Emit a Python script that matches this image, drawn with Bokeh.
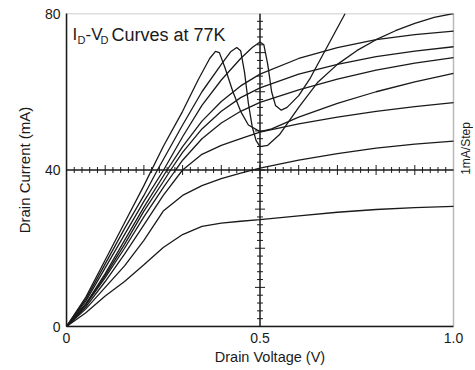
import math
from bokeh.plotting import figure
from bokeh.models import Range1d, Span, Label, FixedTicker, BoxAnnotation
from bokeh.embed import file_html
from bokeh.resources import INLINE

# ---- data ----
v1 = [0, 0.05, 0.1, 0.15, 0.2, 0.25, 0.3, 0.35, 0.4, 0.45, 0.5, 0.6, 0.7, 0.8, 0.9, 1.0]
i1 = [0, 3.5, 7.8, 11.5, 15.8, 20.2, 23.5, 25.6, 26.4, 26.9, 27.3, 28.3, 29.2, 29.9, 30.4, 30.7]

v2 = [0, 0.05, 0.1, 0.15, 0.2, 0.25, 0.3, 0.35, 0.4, 0.45, 0.5, 0.6, 0.7, 0.8, 0.9, 1.0]
i2 = [0, 4.5, 10, 15.5, 22, 29.5, 33.5, 36, 37.8, 39.2, 40.5, 42.5, 44.2, 45.6, 46.6, 47.4]

v3 = [0, 0.05, 0.1, 0.15, 0.2, 0.25, 0.3, 0.35, 0.4, 0.45, 0.5, 0.6, 0.7, 0.8, 0.9, 1.0]
i3 = [0, 5, 11.5, 18.5, 26, 33.5, 40, 44, 46.3, 48, 49.7, 51.8, 53.5, 55, 56.2, 57.2]

v4 = [0, 0.05, 0.1, 0.15, 0.2, 0.25, 0.282, 0.3, 0.35, 0.4, 0.45, 0.5, 0.6, 0.7, 0.8, 0.9, 1.0]
i4 = [0, 5.5, 12.5, 20, 28, 35.5, 40, 42.5, 48, 52, 55, 57.3, 60.5, 63.2, 65.5, 67.3, 68.7]

v5 = [0, 0.05, 0.1, 0.15, 0.2, 0.25, 0.269, 0.3, 0.35, 0.4, 0.45, 0.5, 0.6, 0.7, 0.8, 0.9, 1.0]
i5 = [0, 5.7, 13, 21, 29.5, 37, 40, 44.5, 50.5, 55, 58.5, 61, 64.5, 67, 69, 70.4, 71.5]

v6 = [0, 0.05, 0.1, 0.15, 0.2, 0.26, 0.3, 0.35, 0.4, 0.45, 0.5, 0.6, 0.7, 0.8, 0.9, 1.0]
i6 = [0, 5.8, 13.5, 22, 30.5, 40, 46, 52.5, 57.5, 61.5, 64.5, 68.5, 71.3, 73.3, 74.6, 75.5]

# negative-resistance curves
v7 = [0, 0.05, 0.1, 0.15, 0.2, 0.25, 0.3, 0.34, 0.37, 0.385, 0.395, 0.41, 0.43, 0.45, 0.47, 0.5,
      0.53, 0.6, 0.7, 0.8, 0.9, 1.0]
i7 = [0, 7.5, 17, 26.5, 36, 46, 55, 63, 68.5, 70.3, 70, 66, 60, 55, 51.5, 49.8,
      50.5, 53.5, 57, 60, 62.5, 64.7]

v8 = [0, 0.05, 0.1, 0.15, 0.2, 0.235, 0.3, 0.35, 0.4, 0.425, 0.44, 0.45, 0.46, 0.47, 0.48, 0.49,
      0.5, 0.52, 0.55, 0.6, 0.65, 0.7, 0.75, 0.8, 0.85, 0.9, 0.95, 1.0]
i8 = [0, 7, 16, 25, 33.5, 40, 51.5, 60, 67, 70.3, 71.3, 70.5, 65, 57, 51, 47.5,
      46, 46.3, 49, 56, 62.5, 67, 70.5, 73.3, 75.6, 77.5, 79, 80]

v9 = [0, 0.05, 0.1, 0.15, 0.2, 0.251, 0.3, 0.35, 0.4, 0.45, 0.48, 0.5, 0.51, 0.52, 0.53, 0.54,
      0.555, 0.57, 0.6, 0.63, 0.66, 0.69, 0.72]
i9 = [0, 6.5, 15, 23.5, 32, 40, 48.5, 56.5, 63, 68.5, 71.3, 72.7, 72, 67, 60, 56.5,
      55.3, 56, 59, 63.5, 69, 74.5, 80]

curves = [(v1, i1), (v2, i2), (v3, i3), (v4, i4), (v5, i5), (v6, i6), (v7, i7), (v8, i8), (v9, i9)]

x_ticks = [0, 0.5, 1.0]
x_tick_labels = {0: "0", 0.5: "0.5", 1: "1.0"}
y_ticks = [0, 40, 80]
v_min, v_max = 0.0, 1.0
i_min, i_max = 0, 80
cross_v, cross_i = 0.5, 40          # crosshair of the curve tracer
v_step, i_step = 0.02, 2            # crosshair tick spacing

FONT = "Liberation Sans"
INK = "#1a1a1a"
FW, FH = 387, 313       # data area in pixels
PAD_R = 20              # room on the right for the "1mA/Step" note

p = figure(frame_width=FW + PAD_R, frame_height=FH, output_backend="svg", toolbar_location=None,
           x_range=Range1d(v_min, v_max + (v_max - v_min) * PAD_R / FW),
           y_range=Range1d(i_min, i_max),
           min_border_left=66, min_border_right=0, min_border_top=13, min_border_bottom=30)
p.xgrid.visible = False
p.ygrid.visible = False
p.outline_line_color = None
p.background_fill_color = "white"
p.border_fill_color = "white"

# frame box limited to the data area
p.add_layout(BoxAnnotation(left=v_min, right=v_max, bottom=i_min, top=i_max,
                           fill_alpha=0, line_color=INK, line_width=1.5))

for ax in (p.xaxis[0], p.yaxis[0]):
    ax.major_tick_out = 0
    ax.major_tick_in = 0
    ax.minor_tick_out = 0
    ax.minor_tick_in = 0
    ax.axis_line_color = INK
    ax.axis_line_width = 1.5
    ax.major_label_text_font = FONT
    ax.major_label_text_font_size = "14px"
    ax.major_label_text_color = INK
    ax.axis_label_text_font = FONT
    ax.axis_label_text_font_style = "normal"
    ax.axis_label_text_color = INK

p.xaxis.bounds = (v_min, v_max)
p.xaxis.ticker = FixedTicker(ticks=x_ticks)
p.xaxis.major_label_overrides = x_tick_labels
p.xaxis.major_label_standoff = 6
p.xaxis.axis_label = "Drain Voltage (V)"
p.xaxis.axis_label_text_font_size = "14.5px"
p.xaxis.axis_label_standoff = 3

p.yaxis.ticker = FixedTicker(ticks=y_ticks)
p.yaxis.major_label_standoff = 6
p.yaxis.axis_label = "Drain Current (mA)"
p.yaxis.axis_label_text_font_size = "15px"
p.yaxis.axis_label_standoff = 9

# crosshair with step ticks
p.add_layout(Span(location=cross_v, dimension="height", line_color=INK, line_width=1.5))
p.line([v_min, v_max], [cross_i, cross_i], line_color=INK, line_width=1.5)

n_h = int(round((v_max - v_min) / v_step))
hx = [round(v_min + v_step * k, 3) for k in range(1, n_h)]
hx_major = [x for x in hx if abs(x * 10 - round(x * 10)) < 1e-6]
hx_minor = [x for x in hx if x not in hx_major]
p.scatter(hx_minor, [cross_i] * len(hx_minor), marker="dash", size=6, angle=math.pi / 2,
          line_color=INK, line_width=1)
p.scatter(hx_major, [cross_i] * len(hx_major), marker="dash", size=10, angle=math.pi / 2,
          line_color=INK, line_width=1)
n_v = int(round((i_max - i_min) / i_step))
vy = [i_min + i_step * k for k in range(1, n_v)]
vy_major = [y for y in vy if y % 10 == 0]
vy_minor = [y for y in vy if y % 10 != 0]
p.scatter([cross_v] * len(vy_minor), vy_minor, marker="dash", size=6, line_color=INK, line_width=1)
p.scatter([cross_v] * len(vy_major), vy_major, marker="dash", size=10, line_color=INK, line_width=1)

for vv, ii in curves:
    p.line(vv, ii, line_color=INK, line_width=1.3)

# in-plot title  I_D - V_D Curves at 77K
def lab(txt, x, y, size, angle=0.0, align="left", baseline="alphabetic"):
    p.add_layout(Label(x=x, y=y, x_units="screen", y_units="screen", text=txt, angle=angle,
                       text_font=FONT, text_font_size=size, text_color=INK,
                       text_baseline=baseline, text_align=align))

base = FH - 21
lab("I", 6, base, "17px")
lab("D", 11, base - 5, "11px")
lab("-V", 19, base, "17px")
lab("D", 34, base - 5, "11px")
lab("Curves at 77K", 45, base, "18px")

lab("1mA/Step", FW + 12, FH - 135, "12px", angle=math.pi / 2, align="center", baseline="middle")

open("out.html", "w").write(file_html(p, INLINE))
